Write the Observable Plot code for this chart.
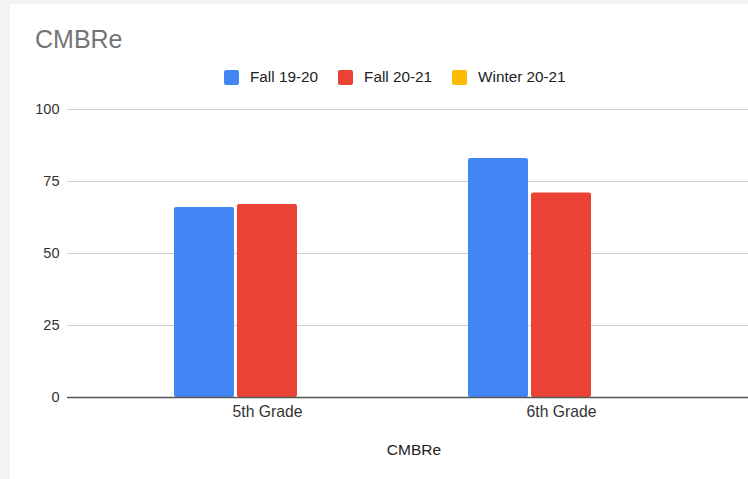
<!DOCTYPE html>
<html>
<head>
<meta charset="utf-8">
<script src="https://cdn.jsdelivr.net/npm/d3@7"></script>
<script src="https://cdn.jsdelivr.net/npm/@observablehq/plot@0.6"></script>
<style>
  html, body { margin: 0; padding: 0; }
  body { width: 748px; height: 479px; background: #f1f3f4; position: relative; overflow: hidden; font-family: "Liberation Sans", Arial, sans-serif; }
  #card { position: absolute; left: 10px; top: 4px; right: 0; bottom: 0; background: #fff; }
  #title { position: absolute; left: 35px; top: 27px; font-size: 25px; color: #757575; line-height: 1; }
  #legend { position: absolute; left: 224px; top: 68px; display: flex; align-items: center; font-size: 15.3px; color: #222; line-height: 18px; }
  #legend .item { display: flex; align-items: center; margin-right: 20px; }
  #legend .sw { width: 15px; height: 15px; border-radius: 2px; margin-right: 11px; }
  #chart { position: absolute; left: 0; top: 90px; }
  #xlabel { position: absolute; left: 0; width: 828px; top: 441px; text-align: center; font-size: 15.5px; color: #222; }
</style>
</head>
<body>
<div id="card"></div>
<div id="title">CMBRe</div>
<div id="legend"></div>
<div id="chart"></div>
<div id="xlabel">CMBRe</div>
<script>
const grades = ["5th Grade", "6th Grade"];
const seriesNames = ["Fall 19-20", "Fall 20-21", "Winter 20-21"];
const fall1920 = [66, 83];
const fall2021 = [67, 71];
const winter2021 = [null, null];
const seriesColors = ["#4285f4", "#ea4335", "#fbbc04"];
const yTicks = [0, 25, 50, 75, 100];

const seriesValues = [fall1920, fall2021, winter2021];

// legend
const legend = document.getElementById("legend");
seriesNames.forEach((name, i) => {
  const item = document.createElement("div");
  item.className = "item";
  const sw = document.createElement("div");
  sw.className = "sw";
  sw.style.background = seriesColors[i];
  const t = document.createElement("span");
  t.textContent = name;
  item.appendChild(sw);
  item.appendChild(t);
  legend.appendChild(item);
});

const barStep = 63, barW = 60, groupW = barStep * 2 + barW; // 186

const barMarks = seriesNames.map((name, i) => {
  const rows = grades.map((g, j) => ({grade: g, series: name, value: seriesValues[i][j]}))
    .filter(d => d.value != null);
  return Plot.barY(rows, {
    x: "grade",
    y: "value",
    fill: seriesColors[i],
    insetLeft: barStep * i,
    insetRight: groupW - barStep * i - barW,
    rx: 2
  });
});

const chart = Plot.plot({
  width: 748,
  height: 389,
  marginLeft: 67,
  marginRight: 0,
  marginTop: 19,
  marginBottom: 82,
  style: {fontFamily: "'Liberation Sans', Arial, sans-serif", fontSize: "14.5px", color: "#333", background: "transparent"},
  x: {domain: grades, range: [120, 708], paddingInner: (294 - 186) / 294, paddingOuter: 54 / 294, label: null},
  y: {domain: [0, 100], label: null},
  marks: [
    Plot.ruleY(yTicks.filter(d => d > 0), {stroke: "#cfcfcf", strokeWidth: 1}),
    ...barMarks,
    Plot.ruleY([0], {stroke: "#555", strokeWidth: 1.3}),
    Plot.axisY({ticks: yTicks, tickSize: 0, tickPadding: 8, label: null, fontSize: 14.5}),
    Plot.axisX({tickSize: 0, tickPadding: 8, label: null, fontSize: 15.7})
  ]
});
document.getElementById("chart").appendChild(chart);
</script>
</body>
</html>
